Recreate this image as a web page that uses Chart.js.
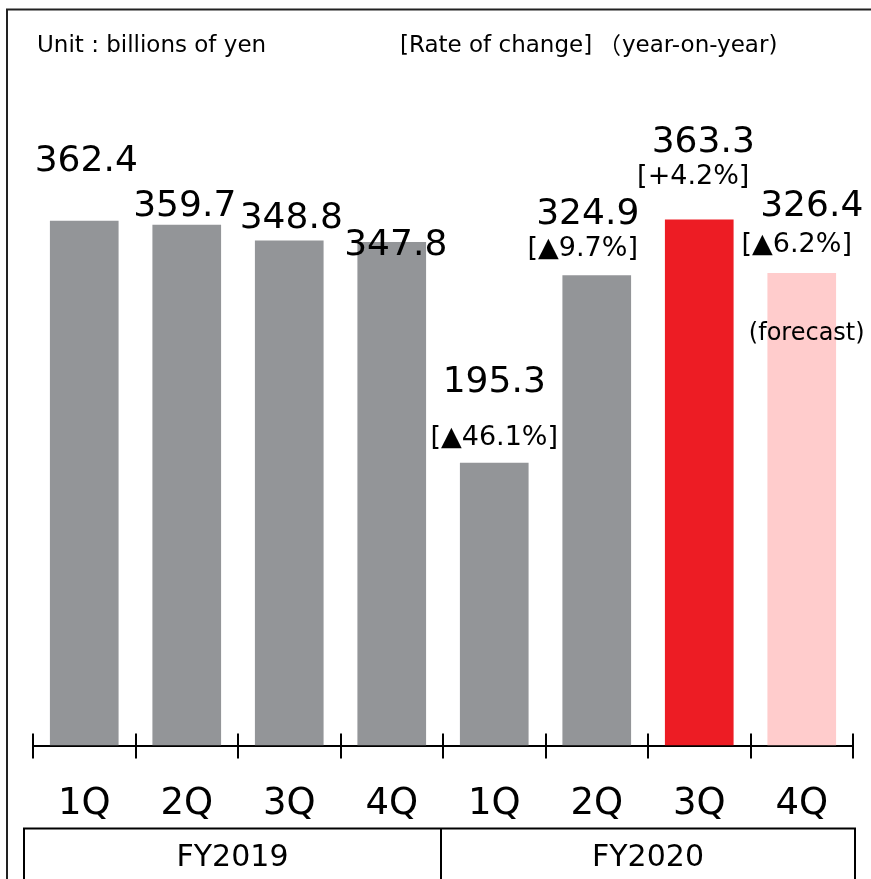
<!DOCTYPE html>
<html>
<head>
<meta charset="utf-8">
<script src="https://cdn.jsdelivr.net/npm/chart.js@4/dist/chart.umd.min.js"></script>
<style>
html,body{margin:0;padding:0;background:#fff;}
#wrap{width:871px;height:879px;position:relative;}
</style>
</head>
<body>
<div id="wrap"><canvas id="c" width="871" height="879"></canvas></div>
<script>
// ---- data ----
const quarters = ['1Q','2Q','3Q','4Q','1Q','2Q','3Q','4Q'];
const fiscalYears = ['FY2019','FY2020'];
const sales = [362.4, 359.7, 348.8, 347.8, 195.3, 324.9, 363.3, 326.4];
const rateOfChange = [null, null, null, null, -46.1, -9.7, 4.2, -6.2];
const forecastFlags = [false, false, false, false, false, false, false, true];
const unitText = 'Unit : billions of yen';
const rateHeader = ['[Rate of change]', '（', 'year-on-year)'];

// ---- styling ----
const barColors = ['#939598','#939598','#939598','#939598','#939598','#939598','#ED1C24','#FFCCCC'];
// label placement relative to the top of each bar (px): [dx, dy] for value and rate
const valueOffsets = [[2,-59],[-2,-18],[2,-22],[4,4],[0,-80],[-9,-61],[4,-77],[10,-66]];
const rateOffsets  = [null,null,null,null,[0,-25],[-14,-26],[-6,-43],[-5,-28]];
const forecastOffset = [5, 61];
const FONT = "'DejaVu Sans', 'Noto Sans CJK JP', sans-serif";

function fmtRate(r){
  const s = r < 0 ? '▲' + Math.abs(r).toFixed(1) : '+' + r.toFixed(1);
  return '[' + s + '%]';
}

const decorPlugin = {
  id: 'decor',
  afterDraw(chart){
    const ctx = chart.ctx;
    const xs = chart.scales.x;
    const area = chart.chartArea;
    const meta = chart.getDatasetMeta(0);
    ctx.save();
    // outer frame
    ctx.strokeStyle = '#222';
    ctx.lineWidth = 2;
    ctx.beginPath();
    ctx.moveTo(7, 879); ctx.lineTo(7, 9.5); ctx.lineTo(871, 9.5);
    ctx.stroke();

    // header texts
    ctx.fillStyle = '#000';
    ctx.textBaseline = 'middle';
    ctx.textAlign = 'left';
    ctx.font = '23px ' + FONT;
    ctx.fillText(unitText, 37, 46);
    ctx.fillText(rateHeader[0], 400, 46);
    ctx.font = "23px 'Noto Sans CJK JP', 'DejaVu Sans', sans-serif";
    ctx.fillText(rateHeader[1], 598, 45);
    ctx.font = '23px ' + FONT;
    ctx.fillText(rateHeader[2], 622, 46);

    // tick marks at category boundaries
    const n = quarters.length;
    const bounds = [];
    for (let i = 0; i <= n; i++){
      let x;
      if (i === 0) x = area.left;
      else if (i === n) x = area.right;
      else x = (xs.getPixelForValue(i-1) + xs.getPixelForValue(i)) / 2;
      bounds.push(x);
    }
    const axisY = area.bottom;
    ctx.strokeStyle = '#000';
    ctx.lineWidth = 2;
    bounds.forEach(x => {
      ctx.beginPath();
      ctx.moveTo(Math.round(x), axisY - 12);
      ctx.lineTo(Math.round(x), axisY + 13);
      ctx.stroke();
    });

    // fiscal-year group boxes
    const boxTop = 828.5;
    const bL = area.left - 9, bM = bounds[4] - 2, bR = area.right + 2;
    ctx.lineWidth = 2;
    ctx.beginPath();
    ctx.moveTo(bL, 879); ctx.lineTo(bL, boxTop); ctx.lineTo(bR, boxTop); ctx.lineTo(bR, 879);
    ctx.moveTo(bM, boxTop); ctx.lineTo(bM, 879);
    ctx.stroke();
    ctx.font = '30px ' + FONT;
    ctx.textAlign = 'center';
    ctx.fillText(fiscalYears[0], (bL + bM)/2, 858);
    ctx.fillText(fiscalYears[1], (bM + bR)/2, 858);

    // value labels
    meta.data.forEach((bar, i) => {
      const vo = valueOffsets[i];
      ctx.font = '36px ' + FONT;
      ctx.textAlign = 'center';
      ctx.fillText(sales[i].toFixed(1), bar.x + vo[0], bar.y + vo[1]);
      if (rateOfChange[i] !== null){
        const ro = rateOffsets[i];
        ctx.font = '27px ' + FONT;
        ctx.fillText(fmtRate(rateOfChange[i]), bar.x + ro[0], bar.y + ro[1]);
      }
      if (forecastFlags[i]){
        ctx.font = '24px ' + FONT;
        ctx.fillText('(forecast)', bar.x + forecastOffset[0], bar.y + forecastOffset[1]);
      }
    });
    ctx.restore();
  }
};

new Chart(document.getElementById('c'), {
  type: 'bar',
  data: {
    labels: quarters,
    datasets: [{
      data: sales,
      backgroundColor: barColors,
      borderWidth: 0,
      categoryPercentage: 1,
      barPercentage: 0.67
    }]
  },
  options: {
    responsive: false,
    animation: false,
    events: [],
    layout: { padding: { top: 94, left: 33, right: 18, bottom: 23 } },
    plugins: { legend: { display: false }, tooltip: { enabled: false } },
    scales: {
      x: {
        grid: { display: false },
        border: { display: true, color: '#000', width: 2 },
        ticks: { color: '#000', padding: 29, font: { family: FONT, size: 37 } }
      },
      y: { display: false, min: 0, max: 450 }
    }
  },
  plugins: [decorPlugin]
});
</script>
</body>
</html>
